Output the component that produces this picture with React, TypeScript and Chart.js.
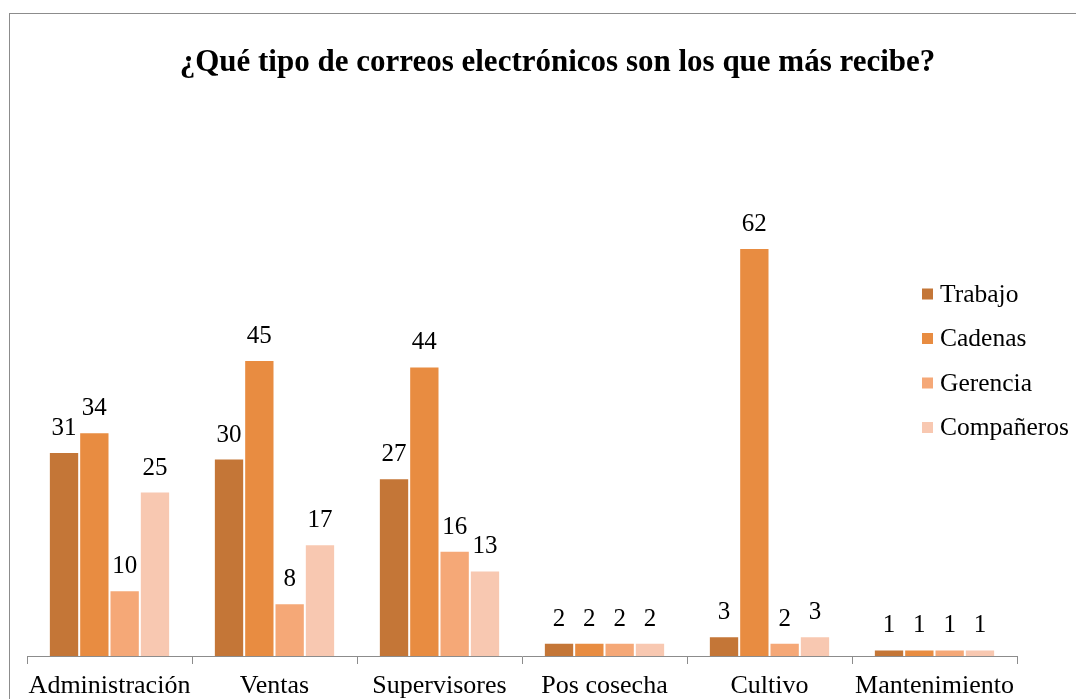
import React, { useEffect, useRef } from "react";
import { Chart, registerables } from "chart.js";

Chart.register(...registerables);

const titleText = "¿Qué tipo de correos electrónicos son los que más recibe?";
const categories = ["Administración", "Ventas", "Supervisores", "Pos cosecha", "Cultivo", "Mantenimiento"];
const seriesNames = ["Trabajo", "Cadenas", "Gerencia", "Compañeros"];
const trabajo = [31, 30, 27, 2, 3, 1];
const cadenas = [34, 45, 44, 2, 62, 1];
const gerencia = [10, 8, 16, 2, 2, 1];
const companeros = [25, 17, 13, 2, 3, 1];
const colors = ["#C47637", "#E88C41", "#F5A877", "#F8C8B1"];

const FONT = "'Liberation Serif', 'Times New Roman', serif";

const framePlugin = {
  id: "frame",
  beforeDraw(chart: any) {
    const ctx = chart.ctx;
    ctx.save();
    ctx.fillStyle = "#ffffff";
    ctx.fillRect(0, 0, chart.width, chart.height);
    ctx.strokeStyle = "#8c8c8c";
    ctx.lineWidth = 1;
    ctx.strokeRect(1.5, 5.5, 5000, 5000);
    ctx.restore();
  },
};

const titlePlugin = {
  id: "customTitle",
  afterDraw(chart: any) {
    const ctx = chart.ctx;
    ctx.save();
    ctx.fillStyle = "#000000";
    ctx.font = `bold 31px ${FONT}`;
    ctx.textAlign = "center";
    ctx.textBaseline = "alphabetic";
    ctx.fillText(titleText, 549.5, 63);
    ctx.restore();
  },
};

const labelsPlugin = {
  id: "valueLabels",
  afterDatasetsDraw(chart: any) {
    const ctx = chart.ctx;
    ctx.save();
    ctx.fillStyle = "#000000";
    ctx.font = `25px ${FONT}`;
    ctx.textAlign = "center";
    ctx.textBaseline = "alphabetic";
    chart.data.datasets.forEach((ds: any, i: number) => {
      const meta = chart.getDatasetMeta(i);
      meta.data.forEach((bar: any, j: number) => {
        ctx.fillText(String(ds.data[j]), bar.x, bar.y - 17);
      });
    });
    ctx.restore();
  },
};

const legendPlugin = {
  id: "customLegend",
  afterDraw(chart: any) {
    const ctx = chart.ctx;
    ctx.save();
    ctx.font = `25.5px ${FONT}`;
    ctx.textBaseline = "middle";
    ctx.textAlign = "left";
    chart.data.datasets.forEach((ds: any, i: number) => {
      const cy = 286 + i * 44.5;
      ctx.fillStyle = ds.backgroundColor;
      ctx.fillRect(914, cy - 5.5, 11, 11);
      ctx.fillStyle = "#000000";
      ctx.fillText(ds.label, 932, cy + 1);
    });
    ctx.restore();
  },
};

export default function App() {
  const ref = useRef<HTMLCanvasElement | null>(null);
  useEffect(() => {
    if (!ref.current) return;
    const values = [trabajo, cadenas, gerencia, companeros];
    const chart = new Chart(ref.current, {
      type: "bar",
      data: {
        labels: categories,
        datasets: seriesNames.map((name, i) => ({
          label: name,
          data: values[i],
          backgroundColor: colors[i],
          borderColor: "#ffffff",
          borderWidth: { left: 1, right: 1, top: 1, bottom: 0 },
          borderSkipped: "bottom",
          categoryPercentage: 0.735,
          barPercentage: 1,
        })),
      },
      options: {
        animation: false,
        responsive: false,
        maintainAspectRatio: false,
        layout: { padding: { left: 19, right: 67, top: 187.4, bottom: 0 } },
        plugins: {
          legend: { display: false },
          title: { display: false },
          tooltip: { enabled: false },
        },
        scales: {
          x: {
            grid: {
              offset: true,
              drawOnChartArea: false,
              drawTicks: true,
              tickLength: 8,
              color: "#8c8c8c",
            },
            border: { display: true, color: "#8c8c8c", width: 1 },
            ticks: {
              color: "#000000",
              font: { family: FONT, size: 26 },
              padding: 7,
              maxRotation: 0,
              autoSkip: false,
            },
            afterFit: (scale: any) => {
              scale.height = 43;
            },
          },
          y: {
            display: false,
            min: 0,
            max: 70,
          },
        },
      },
      plugins: [framePlugin, labelsPlugin, legendPlugin, titlePlugin],
    });
    return () => chart.destroy();
  }, []);
  return (
    <div style={{ width: 1076, height: 691 }}>
      <canvas ref={ref} width={1076} height={691} style={{ display: "block" }} />
    </div>
  );
}
